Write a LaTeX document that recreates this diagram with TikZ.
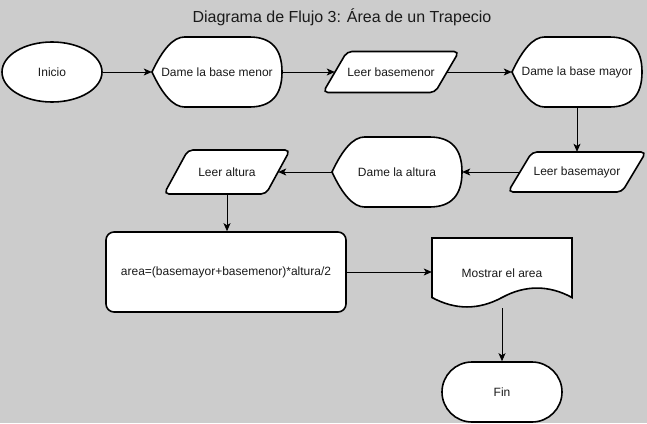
\documentclass[tikz,border=0pt]{standalone}
\usepackage{fontspec}
\setmainfont{Liberation Sans}
\usetikzlibrary{arrows.meta,shapes.geometric}
\definecolor{fondo}{HTML}{CCCCCC}
\definecolor{letra}{HTML}{1A1A1A}
\newcommand\formadisplay[3]{%
  \draw[borde,shift={#2}] (-65,0) .. controls (-54.17,-23.33) and (-43.33,-35) .. (-32.5,-35)
    -- (32.5,-35) .. controls (54.17,-35) and (65,-23.33) .. (65,0)
    .. controls (65,23.33) and (54.17,35) .. (32.5,35)
    -- (-32.5,35) .. controls (-43.33,35) and (-54.17,23.33) .. (-65,0) -- cycle;
  \node[texto,minimum width=130,minimum height=70] (#1) at #2 {#3};}
\newcommand\formaleer[5]{%
  \draw[borde,rounded corners=5,shift={#2}] (-#3/2-12,#4/2) -- (-#3/2+12,-#4/2)
    -- (#3/2+12,-#4/2) -- (#3/2-12,#4/2) -- cycle;
  \node[texto,minimum width=#3,minimum height=#4] (#1) at #2 {#5};}
\newcommand\formadoc[3]{%
  \draw[borde,shift={#2}] (-70,-35) -- (70,-35) -- (70,24.5)
    .. controls (46.67,11.9) and (23.33,11.9) .. (0,24.5)
    .. controls (-23.33,37.1) and (-46.67,37.1) .. (-70,24.5) -- cycle;
  \node[texto,minimum width=140,minimum height=70] (#1) at #2 {#3};}

\begin{document}
\begin{tikzpicture}[x=1pt, y=-1pt,
    borde/.style={draw=black, fill=white, line width=1.6pt},
    texto/.style={inner sep=0pt, text=letra, font=\fontsize{12}{14}\selectfont},
    flecha/.style={-{Stealth[length=8pt,width=7pt,inset=2pt]}, line width=0.9pt}]
    \path[use as bounding box, fill=fondo] (0,0) rectangle (647,423);
    \node[text=letra, font=\fontsize{16}{19}\selectfont] (titulo) at (342,17) {Diagrama de Flujo 3: Área de un Trapecio};
    \node[borde, texto, ellipse, minimum width=100, minimum height=60] (inicio) at (52,72) {Inicio};
    \formadisplay{dameMenor}{(217,72)}{Dame la base menor}
    \formaleer{leerMenor}{(391,72)}{112}{41}{Leer basemenor}
    \formadisplay{dameMayor}{(577,72)}{Dame la base mayor}
    \formaleer{leerMayor}{(577,172)}{114}{40}{Leer basemayor}
    \formadisplay{dameAltura}{(397,172)}{Dame la altura}
    \formaleer{leerAltura}{(227,172)}{102}{44}{Leer altura}
    \node[borde, texto, rounded corners=8, minimum width=240, minimum height=80] (area) at (226,272) {area=(basemayor+basemenor)*altura/2};
    \formadoc{mostrar}{(502,273)}{Mostrar el area}
    \node[borde, texto, rounded corners=30, minimum width=120, minimum height=60] (fin) at (502,392) {Fin};
    \draw[flecha] (inicio) -- (dameMenor);
    \draw[flecha] (dameMenor) -- (leerMenor);
    \draw[flecha] (leerMenor) -- (dameMayor);
    \draw[flecha] (dameMayor) -- (leerMayor);
    \draw[flecha] (leerMayor) -- (dameAltura);
    \draw[flecha] (dameAltura) -- (leerAltura);
    \draw[flecha] (leerAltura.south) -- (leerAltura.south |- area.north);
    \draw[flecha] (area.east) -- (area.east -| mostrar.west);
    \draw[flecha] (mostrar) -- (fin);
\end{tikzpicture}
\end{document}
